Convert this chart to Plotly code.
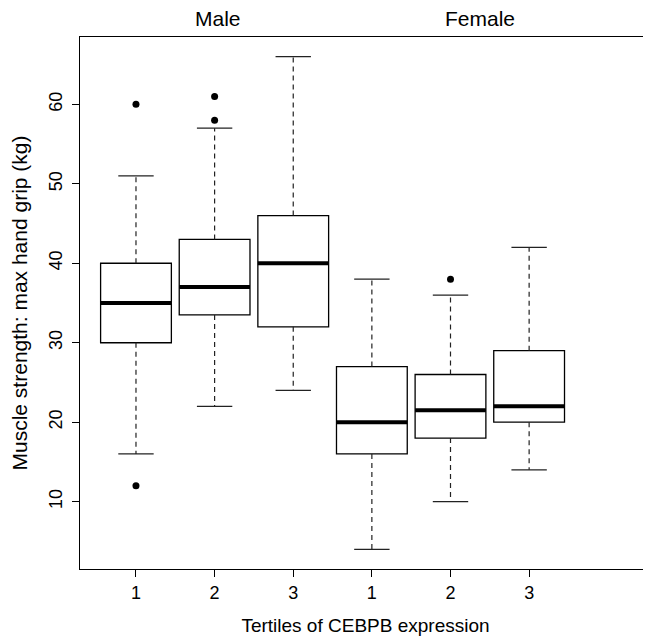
import plotly.graph_objects as go

# ---- data ----
sex_labels = ["Male", "Female"]
tick_labels = ["1", "2", "3", "1", "2", "3"]
positions = [1, 2, 3, 4, 5, 6]
lower_whisker = [16, 22, 24, 4, 10, 14]
q1 = [30, 33.5, 32, 16, 18, 20]
median = [35, 37, 40, 20, 21.5, 22]
q3 = [40, 43, 46, 27, 26, 29]
upper_whisker = [51, 57, 66, 38, 36, 42]
outliers = [[60, 12], [58, 61], [], [], [38], []]
sex_label_pos = [2.04, 5.38]

FONT = "Liberation Sans, Arial, sans-serif"
BOXW = 0.9
CAPW = BOXW / 4

fig = go.Figure()

for i, p in enumerate(positions):
    fig.add_trace(go.Box(
        x=[p], q1=[q1[i]], median=[median[i]], q3=[q3[i]],
        lowerfence=[q1[i]], upperfence=[q3[i]],
        width=BOXW, whiskerwidth=0,
        fillcolor="white", line=dict(color="black", width=1.3),
        boxpoints=False, showlegend=False, hoverinfo="skip",
    ))

wx, wy, cx, cy, mx, my, ox, oy = [], [], [], [], [], [], [], []
for i, p in enumerate(positions):
    wx += [p, p, None, p, p, None]
    wy += [q3[i], upper_whisker[i], None, q1[i], lower_whisker[i], None]
    cx += [p - CAPW, p + CAPW, None, p - CAPW, p + CAPW, None]
    cy += [upper_whisker[i], upper_whisker[i], None, lower_whisker[i], lower_whisker[i], None]
    mx += [p - BOXW / 2, p + BOXW / 2, None]
    my += [median[i], median[i], None]
    for v in outliers[i]:
        ox.append(p)
        oy.append(v)

fig.add_trace(go.Scatter(x=wx, y=wy, mode="lines",
                         line=dict(color="#222", width=1.2, dash="5px,4px"),
                         showlegend=False, hoverinfo="skip"))
fig.add_trace(go.Scatter(x=cx, y=cy, mode="lines",
                         line=dict(color="#222", width=1.3),
                         showlegend=False, hoverinfo="skip"))
fig.add_trace(go.Scatter(x=mx, y=my, mode="lines",
                         line=dict(color="black", width=4),
                         showlegend=False, hoverinfo="skip"))
fig.add_trace(go.Scatter(x=ox, y=oy, mode="markers",
                         marker=dict(color="black", size=7),
                         showlegend=False, hoverinfo="skip"))

for lab, xp in zip(sex_labels, sex_label_pos):
    fig.add_annotation(text=lab, x=xp, xref="x", y=1.034, yref="paper",
                       xanchor="center", yanchor="middle", showarrow=False,
                       font=dict(family=FONT, size=21, color="black"))

fig.update_layout(
    width=643, height=629,
    margin=dict(l=72, r=0, t=29, b=68),
    plot_bgcolor="white", paper_bgcolor="white",
    font=dict(family=FONT, color="black"),
    xaxis=dict(
        range=[0.288, 7.55], tickmode="array", tickvals=positions, ticktext=tick_labels,
        showgrid=False, zeroline=False, showline=True, mirror=True,
        linecolor="black", linewidth=1, ticks="outside", ticklen=7, tickcolor="black",
        tickfont=dict(family=FONT, size=18),
        title=dict(text="Tertiles of CEBPB expression", font=dict(family=FONT, size=19), standoff=17),
    ),
    yaxis=dict(
        range=[1.52, 68.48], tickvals=[10, 20, 30, 40, 50, 60],
        showgrid=False, zeroline=False, showline=True, mirror=False,
        linecolor="black", linewidth=1, ticks="outside", ticklen=7, tickcolor="black",
        tickangle=-90, tickfont=dict(family=FONT, size=18), ticklabelstandoff=3,
        title=dict(text="Muscle strength: max hand grip (kg)", font=dict(family=FONT, size=21), standoff=17),
    ),
)

fig.write_html("out.html")
